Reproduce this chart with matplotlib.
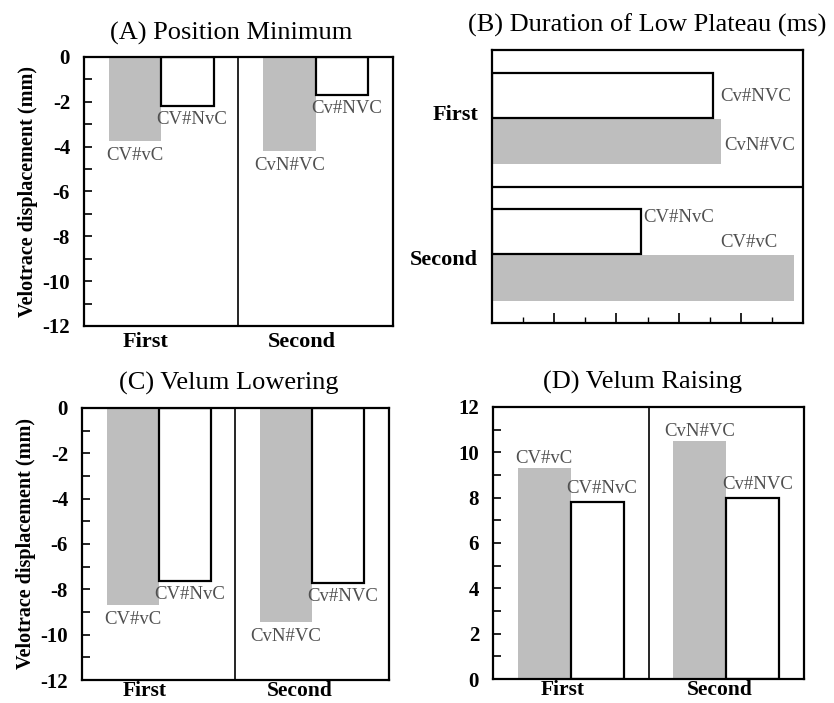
import matplotlib
matplotlib.use('Agg')
import matplotlib.pyplot as plt
from matplotlib.ticker import MultipleLocator

plt.rcParams['font.family'] = ['Liberation Serif', 'DejaVu Serif']
plt.rcParams['axes.unicode_minus'] = False

groups = ['First', 'Second']

# (A) Position Minimum, mm
posmin_gray = [-3.75, -4.2]
posmin_white = [-2.2, -1.7]

# (B) Duration of Low Plateau, ms
plateau_white = [71, 48]
plateau_gray = [73.5, 97]

# (C) Velum Lowering, mm
lower_gray = [-8.7, -9.45]
lower_white = [-7.65, -7.7]

# (D) Velum Raising, mm
raise_gray = [9.3, 10.5]
raise_white = [7.8, 8.0]

# bar labels
gray_lab = ['CV#vC', 'CvN#VC']
white_lab = ['CV#NvC', 'Cv#NVC']
plateau_white_lab = ['Cv#NVC', 'CV#NvC']
plateau_gray_lab = ['CvN#VC', 'CV#vC']

GRAY = '#bebebe'
LABC = '#505050'
W = 0.34
LABFS = 13.5
TITLEFS = 19


def style_spines(ax):
    for s in ax.spines.values():
        s.set_linewidth(1.6)


def vbar_panel(ax, gray, white, ylim, title, title_x, xlab_pos, xfs=16, xpad=4, ylabel=None):
    xg = [i + 0.5 - 0.17 for i in range(2)]
    xw = [i + 0.5 + 0.17 for i in range(2)]
    ax.bar(xg, gray, width=W, color=GRAY, linewidth=0, zorder=1)
    ax.bar(xw, white, width=W, color='white', edgecolor='black', linewidth=1.6, zorder=2)
    ax.axvline(1, color='black', lw=1.2, zorder=3)
    ax.set_xlim(0, 2)
    ax.set_ylim(*ylim)
    ax.yaxis.set_major_locator(MultipleLocator(2))
    ax.yaxis.set_minor_locator(MultipleLocator(1))
    ax.tick_params(axis='y', which='both', direction='in', length=6, width=1.2,
                   labelsize=15, pad=10)
    ax.set_xticks(xlab_pos, groups)
    ax.tick_params(axis='x', length=0, labelsize=xfs, pad=xpad)
    for lab in ax.get_xticklabels() + ax.get_yticklabels():
        lab.set_fontweight('bold')
    ax.text(title_x, 1.0 + 24 / 270, title, transform=ax.transAxes, ha='center', va='center',
            fontsize=TITLEFS)
    if ylabel:
        ax.set_ylabel(ylabel, fontsize=14.5, fontweight='bold', labelpad=3)
    for x, v, t in zip(xg, gray, gray_lab):
        off = -0.65 if v < 0 else 0.42
        ax.text(x, v + off, t, ha='center', va='center', fontsize=LABFS, color=LABC)
    for x, v, t in zip(xw, white, white_lab):
        off = -0.6 if v < 0 else 0.6
        ax.text(x + 0.03, v + off, t, ha='center', va='center', fontsize=LABFS, color=LABC)
    style_spines(ax)


fig = plt.figure(figsize=(8.34, 7.03), dpi=100)

axA = fig.add_axes([0.1007, 0.5363, 0.3705, 0.3827])
vbar_panel(axA, posmin_gray, posmin_white, (-12, 0), '(A) Position Minimum', 0.475,
           [0.40, 1.41], ylabel='Velotrace displacement (mm)')

axC = fig.add_axes([0.0983, 0.0327, 0.368, 0.387])
vbar_panel(axC, lower_gray, lower_white, (-12, 0), '(C) Velum Lowering', 0.477,
           [0.41, 1.42], xfs=15.5, xpad=1, ylabel='Velotrace displacement (mm)')

axD = fig.add_axes([0.5911, 0.0341, 0.373, 0.387])
vbar_panel(axD, raise_gray, raise_white, (0, 12), '(D) Velum Raising', 0.48,
           [0.45, 1.46], xfs=15.5, xpad=1)

# (B) horizontal bars
axB = fig.add_axes([0.590, 0.5405, 0.373, 0.3883])
yw = [i + 0.33 for i in range(2)]
yg = [i + 0.67 for i in range(2)]
axB.barh(yg, plateau_gray, height=0.33, color=GRAY, linewidth=0, zorder=1)
axB.barh(yw, plateau_white, height=0.33, color='white', edgecolor='black',
         linewidth=1.6, zorder=2)
axB.axhline(1, color='black', lw=1.6, zorder=3)
axB.set_xlim(0, 100)
axB.set_ylim(2, 0)
axB.xaxis.set_major_locator(MultipleLocator(20))
axB.xaxis.set_minor_locator(MultipleLocator(10))
axB.tick_params(axis='x', which='major', direction='in', length=7, width=1.2,
                labelbottom=False)
axB.tick_params(axis='x', which='minor', direction='in', length=4, width=1.0)
axB.set_yticks([0.46, 1.52], groups)
axB.tick_params(axis='y', length=0, labelsize=16, pad=10)
for lab in axB.get_yticklabels():
    lab.set_fontweight('bold')
axB.text(0.5, 1.0 + 25 / 273, '(B) Duration of Low Plateau (ms)', transform=axB.transAxes,
         ha='center', va='center', fontsize=TITLEFS)
axB.text(plateau_white[0] + 2.3, yw[0] + 0.01, plateau_white_lab[0], ha='left', va='center',
         fontsize=LABFS, color=LABC)
axB.text(plateau_gray[0] + 1.0, yg[0] + 0.03, plateau_gray_lab[0], ha='left', va='center',
         fontsize=LABFS, color=LABC)
axB.text(plateau_white[1] + 0.7, yw[1] - 0.1, plateau_white_lab[1], ha='left', va='center',
         fontsize=LABFS, color=LABC)
axB.text(73.3, yg[1] - 0.26, plateau_gray_lab[1], ha='left', va='center',
         fontsize=LABFS, color=LABC)
style_spines(axB)

fig.savefig('out.png', dpi=100)
